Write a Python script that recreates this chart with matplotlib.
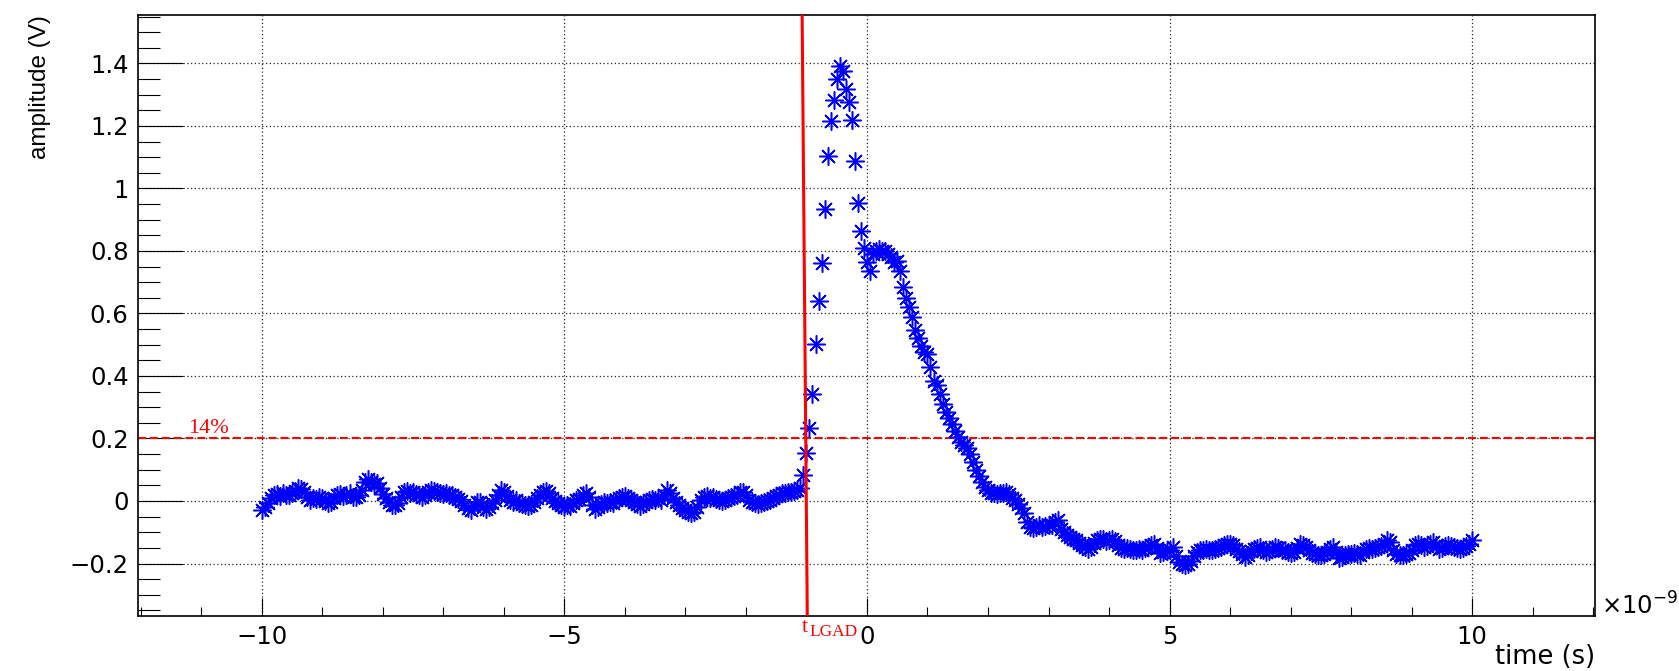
import numpy as np
import matplotlib
matplotlib.use("Agg")
import matplotlib.pyplot as plt
from matplotlib.ticker import MultipleLocator, FuncFormatter

plt.rcParams['font.family'] = ['DejaVu Sans']

# ---------------- data ----------------
t_start_ns = -10.0
t_step_ns = 0.05

amplitude_V = [
    # -10 .. -9.05
    -0.030, -0.018, -0.005, 0.010, 0.018, 0.022, 0.016, 0.024, 0.020, 0.018,
    0.026, 0.032, 0.040, 0.038, 0.028, 0.012, 0.004, 0.010, 0.006, 0.012,
    # -9 .. -8.05
    0.008, 0.000, -0.008, -0.004, 0.008, 0.018, 0.022, 0.016, 0.020, 0.024,
    0.014, 0.012, 0.018, 0.036, 0.060, 0.070, 0.062, 0.055, 0.058, 0.040,
    # -8 .. -7.05
    0.022, 0.010, -0.004, -0.012, -0.014, -0.006, 0.012, 0.028, 0.032, 0.026,
    0.030, 0.022, 0.018, 0.014, 0.020, 0.030, 0.036, 0.032, 0.028, 0.024,
    # -7 .. -6.05
    0.022, 0.026, 0.018, 0.020, 0.012, 0.006, 0.000, -0.012, -0.024, -0.030,
    -0.016, -0.004, -0.002, -0.018, -0.026, -0.020, -0.006, 0.004, 0.020, 0.034,
    # -6 .. -5.05
    0.030, 0.016, 0.004, -0.002, 0.002, -0.006, -0.010, -0.014, -0.016, -0.014,
    -0.004, 0.008, 0.018, 0.028, 0.032, 0.024, 0.010, 0.000, -0.008, -0.014,
    # -5 .. -4.05
    -0.018, -0.012, -0.016, -0.006, 0.002, 0.006, 0.018, 0.026, 0.012, -0.014,
    -0.026, -0.020, -0.010, -0.004, -0.008, -0.002, -0.006, 0.002, 0.010, 0.014,
    # -4 .. -3.05
    0.016, 0.008, 0.002, -0.002, -0.010, -0.016, -0.010, -0.002, 0.004, 0.006,
    0.002, 0.008, 0.004, 0.018, 0.034, 0.026, 0.008, -0.004, -0.014, -0.024,
    # -3 .. -2.05
    -0.030, -0.036, -0.040, -0.036, -0.020, 0.002, 0.014, 0.016, 0.010, 0.012,
    0.006, 0.004, 0.000, 0.002, 0.008, 0.014, 0.016, 0.020, 0.028, 0.030,
    # -2 .. -1.05
    0.018, 0.004, -0.004, -0.008, -0.010, -0.006, -0.002, 0.000, 0.004, 0.010,
    0.016, 0.020, 0.024, 0.026, 0.028, 0.030, 0.032, 0.036, 0.043, 0.083,
    # -1 .. -0.05
    0.155, 0.235, 0.342, 0.503, 0.640, 0.763, 0.934, 1.103, 1.215, 1.284,
    1.349, 1.393, 1.376, 1.317, 1.278, 1.218, 1.087, 0.953, 0.864, 0.811,
    # 0 .. 0.95
    0.765, 0.735, 0.790, 0.800, 0.805, 0.800, 0.800, 0.790, 0.780, 0.765,
    0.768, 0.735, 0.685, 0.650, 0.620, 0.590, 0.548, 0.520, 0.495, 0.476,
    # 1 .. 1.95
    0.470, 0.430, 0.385, 0.370, 0.342, 0.310, 0.285, 0.264, 0.245, 0.225,
    0.205, 0.188, 0.178, 0.168, 0.150, 0.125, 0.100, 0.080, 0.062, 0.046,
    # 2 .. 2.95
    0.034, 0.026, 0.024, 0.022, 0.026, 0.024, 0.028, 0.022, 0.010, 0.002,
    -0.010, -0.024, -0.040, -0.068, -0.082, -0.086, -0.082, -0.078, -0.084, -0.080,
    # 3 .. 3.95
    -0.078, -0.076, -0.066, -0.062, -0.088, -0.100, -0.110, -0.116, -0.122, -0.126,
    -0.134, -0.142, -0.148, -0.152, -0.146, -0.134, -0.126, -0.120, -0.122, -0.128,
    # 4 .. 4.95
    -0.124, -0.120, -0.128, -0.140, -0.150, -0.152, -0.150, -0.154, -0.156, -0.158,
    -0.155, -0.158, -0.150, -0.148, -0.140, -0.136, -0.150, -0.166, -0.164, -0.160,
    # 5 .. 5.95
    -0.156, -0.148, -0.176, -0.196, -0.202, -0.205, -0.200, -0.192, -0.176, -0.162,
    -0.158, -0.156, -0.154, -0.158, -0.156, -0.152, -0.150, -0.146, -0.140, -0.138,
    # 6 .. 6.95
    -0.136, -0.142, -0.152, -0.160, -0.170, -0.178, -0.174, -0.160, -0.154, -0.150,
    -0.148, -0.156, -0.162, -0.160, -0.152, -0.146, -0.150, -0.156, -0.158, -0.162,
    # 7 .. 7.95
    -0.166, -0.164, -0.150, -0.136, -0.140, -0.146, -0.156, -0.166, -0.170, -0.172,
    -0.174, -0.168, -0.162, -0.154, -0.148, -0.164, -0.182, -0.180, -0.174, -0.170,
    # 8 .. 8.95
    -0.168, -0.166, -0.170, -0.172, -0.162, -0.152, -0.150, -0.154, -0.150, -0.146,
    -0.144, -0.136, -0.126, -0.130, -0.158, -0.168, -0.172, -0.174, -0.170, -0.166,
    # 9 .. 9.95
    -0.156, -0.140, -0.136, -0.142, -0.148, -0.144, -0.136, -0.130, -0.140, -0.152,
    -0.150, -0.144, -0.140, -0.144, -0.148, -0.150, -0.152, -0.150, -0.144, -0.138,
    # 10
    -0.126,
]
time_ns = t_start_ns + t_step_ns * np.arange(len(amplitude_V))

threshold_V = 0.2
threshold_label = "14%"
tlgad_x_ns = [-1.071, -0.986]      # slanted marker line (top, bottom)
x_limits = (-12.04, 12.03)
y_limits = (-0.367, 1.555)

# ---------------- figure ----------------
W, H = 1679, 671
fig = plt.figure(figsize=(W / 100, H / 100), dpi=100)
fig.patch.set_facecolor('white')
ax_l, ax_r, ax_t, ax_b = 138.3, 1595.0, 15.0, 615.7
ax = fig.add_axes([ax_l / W, 1 - ax_b / H, (ax_r - ax_l) / W, (ax_b - ax_t) / H])

ax.set_xlim(*x_limits)
ax.set_ylim(*y_limits)

ax.grid(True, which='major', linestyle=(0, (1, 2)), linewidth=0.9, color='0.15', zorder=0)
ax.set_axisbelow(True)

ax.axhline(threshold_V, color='red', linewidth=1.5, dashes=(3.8, 1.9), zorder=2)

ax.plot(time_ns, amplitude_V, linestyle='none', marker=(8, 2, 0), markersize=13,
        markeredgewidth=1.1, color='blue', zorder=3)

ax.plot(tlgad_x_ns, [y_limits[1], y_limits[0]], color='red', linewidth=2.2,
        zorder=4, clip_on=False, solid_capstyle='butt')

# ticks
def fmt(v, pos):
    v = round(v, 6)
    if abs(v) < 1e-9:
        return "0"
    s = f"{v:g}"
    return s.replace("-", "\u2212")

ax.xaxis.set_major_locator(MultipleLocator(5))
ax.xaxis.set_minor_locator(MultipleLocator(1))
ax.yaxis.set_major_locator(MultipleLocator(0.2))
ax.yaxis.set_minor_locator(MultipleLocator(0.05))
ax.xaxis.set_major_formatter(FuncFormatter(fmt))
ax.yaxis.set_major_formatter(FuncFormatter(fmt))

ax.tick_params(axis='both', which='both', direction='in', top=False, right=False,
               width=0.8, colors='black')
ax.tick_params(axis='y', which='major', length=32.4, pad=7, labelsize=17.5)
ax.tick_params(axis='y', which='minor', length=15.8)
ax.tick_params(axis='x', which='major', length=13, pad=6.5, labelsize=17.5)
ax.tick_params(axis='x', which='minor', length=6.5)

for sp in ax.spines.values():
    sp.set_linewidth(1.2)
    sp.set_color('black')

# texts
fig.text(40 / W, 1 - 15 / H, 'amplitude (V)', rotation=90, ha='center', va='top',
         fontsize=17.5, family='Liberation Sans')
fig.text(1595 / W, 1 - 664 / H, 'time (s)', ha='right', va='baseline', fontsize=18.5)
fig.text(1601 / W, 1 - 615 / H, r'$\times10^{-9}$', ha='left', va='baseline', fontsize=17.5)

ax.text(-11.22, 0.217, threshold_label, color='red', family='Liberation Serif',
        fontsize=16, ha='left', va='baseline')

fig.text(802 / W, 1 - 632 / H, 't', color='red', family='Liberation Serif',
         fontsize=16, ha='left', va='baseline')
fig.text(809 / W, 1 - 636 / H, 'LGAD', color='red', family='Liberation Serif',
         fontsize=12.5, ha='left', va='baseline')

fig.savefig('out.png', dpi=100)
